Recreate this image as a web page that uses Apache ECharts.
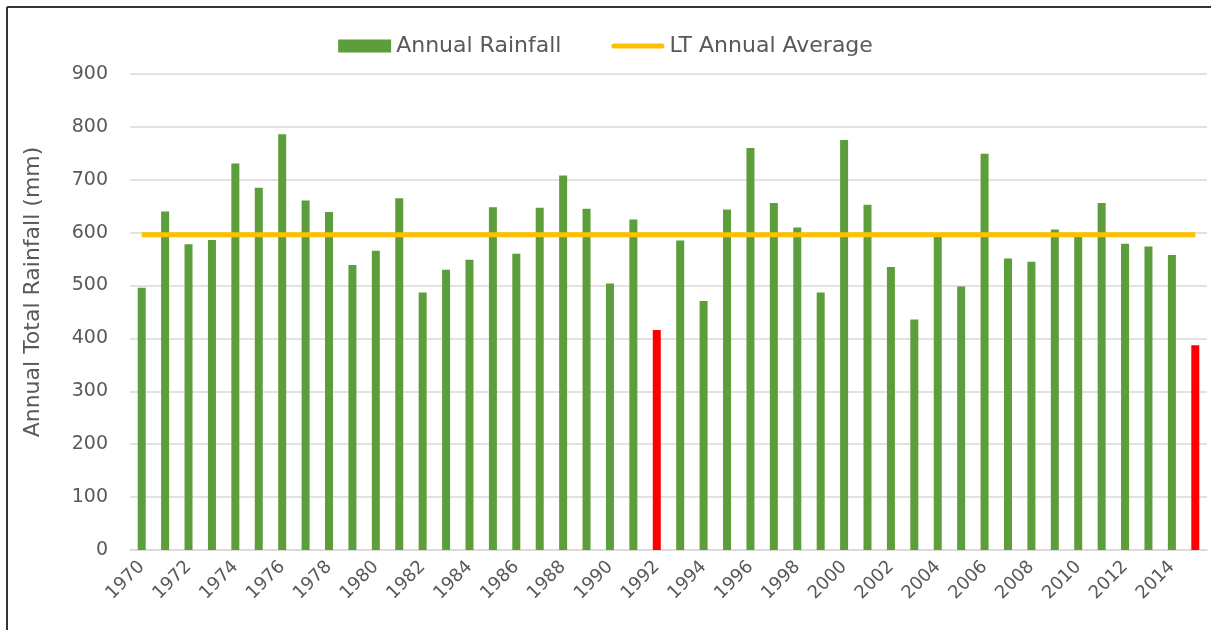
<!DOCTYPE html>
<html>
<head>
<meta charset="utf-8">
<script src="https://cdn.jsdelivr.net/npm/echarts@6/dist/echarts.min.js"></script>
<style>
	html, body { margin: 0; padding: 0; background: #fff; }
	#chart { width: 1211px; height: 630px; }
</style>
</head>
<body>
<div id="chart"></div>
<script>
// 年份
const years = ['1970', '1971', '1972', '1973', '1974', '1975', '1976', '1977', '1978', '1979',
	'1980', '1981', '1982', '1983', '1984', '1985', '1986', '1987', '1988', '1989',
	'1990', '1991', '1992', '1993', '1994', '1995', '1996', '1997', '1998', '1999',
	'2000', '2001', '2002', '2003', '2004', '2005', '2006', '2007', '2008', '2009',
	'2010', '2011', '2012', '2013', '2014', '2015'];
// 年降雨量 (mm)
const rainfall = [496, 640, 578, 586, 731, 685, 786, 661, 639, 539,
	566, 665, 487, 530, 549, 648, 560, 647, 708, 645,
	504, 625, 416, 585, 471, 644, 760, 656, 610, 487,
	775, 653, 535, 436, 592, 498, 749, 551, 545, 606,
	592, 656, 579, 574, 558, 387];
const dryYears = ['1992', '2015'];
const ltAverage = 596;
const yTicks = { min: 0, max: 900, interval: 100 };

const textColor = '#595959';
const fontFamily = 'DejaVu Sans';

let myChart = echarts.init(document.getElementById('chart'));
let option = {
	animation: false,
	textStyle: { fontFamily: fontFamily },
	legend: {
		top: 30,
		left: 'center',
		itemWidth: 53,
		itemHeight: 13,
		itemGap: 50,
		textStyle: { fontSize: 22, color: textColor, fontFamily: fontFamily },
		data: [
			{ name: 'Annual Rainfall', icon: 'rect' },
			{ name: 'LT Annual Average', icon: 'path://M2.5,0 L50.5,0 A2.5,2.5 0 0 1 50.5,5 L2.5,5 A2.5,2.5 0 0 1 2.5,0 Z' }
		]
	},
	grid: { left: 130, right: 4, top: 74, bottom: 80, containLabel: false },
	xAxis: {
		type: 'category',
		data: years,
		axisTick: { show: false },
		axisLine: { lineStyle: { color: '#d9d9d9', width: 1.5 } },
		axisLabel: {
			interval: 1,
			rotate: 45,
			color: textColor,
			fontSize: 18,
			margin: 14,
			fontFamily: fontFamily
		}
	},
	yAxis: {
		type: 'value',
		min: yTicks.min,
		max: yTicks.max,
		interval: yTicks.interval,
		name: 'Annual Total Rainfall (mm)',
		nameLocation: 'middle',
		nameGap: 86,
		nameTextStyle: { fontSize: 22, color: textColor, fontFamily: fontFamily, padding: [0, 0, 0, 40] },
		axisLabel: { color: textColor, fontSize: 19, margin: 22, fontFamily: fontFamily },
		splitLine: { lineStyle: { color: '#d9d9d9', width: 1.5 } }
	},
	series: [
		{
			name: 'Annual Rainfall',
			type: 'bar',
			barWidth: 8,
			itemStyle: { color: '#5b9e3b' },
			data: rainfall.map(function (v, i) {
				if (dryYears.indexOf(years[i]) >= 0) {
					return { value: v, itemStyle: { color: '#ff0000' } };
				}
				return v;
			})
		},
		{
			name: 'LT Annual Average',
			type: 'line',
			symbol: 'none',
			lineStyle: { color: '#ffc000', width: 5 },
			itemStyle: { color: '#ffc000' },
			z: 3,
			data: years.map(function () { return ltAverage; })
		}
	],
	graphic: [
		{ type: 'line', shape: { x1: 7, y1: 7, x2: 1211, y2: 7 }, style: { stroke: '#333', lineWidth: 2 } },
		{ type: 'line', shape: { x1: 7, y1: 7, x2: 7, y2: 630 }, style: { stroke: '#333', lineWidth: 2 } }
	]
};
myChart.setOption(option, true);
</script>
</body>
</html>
